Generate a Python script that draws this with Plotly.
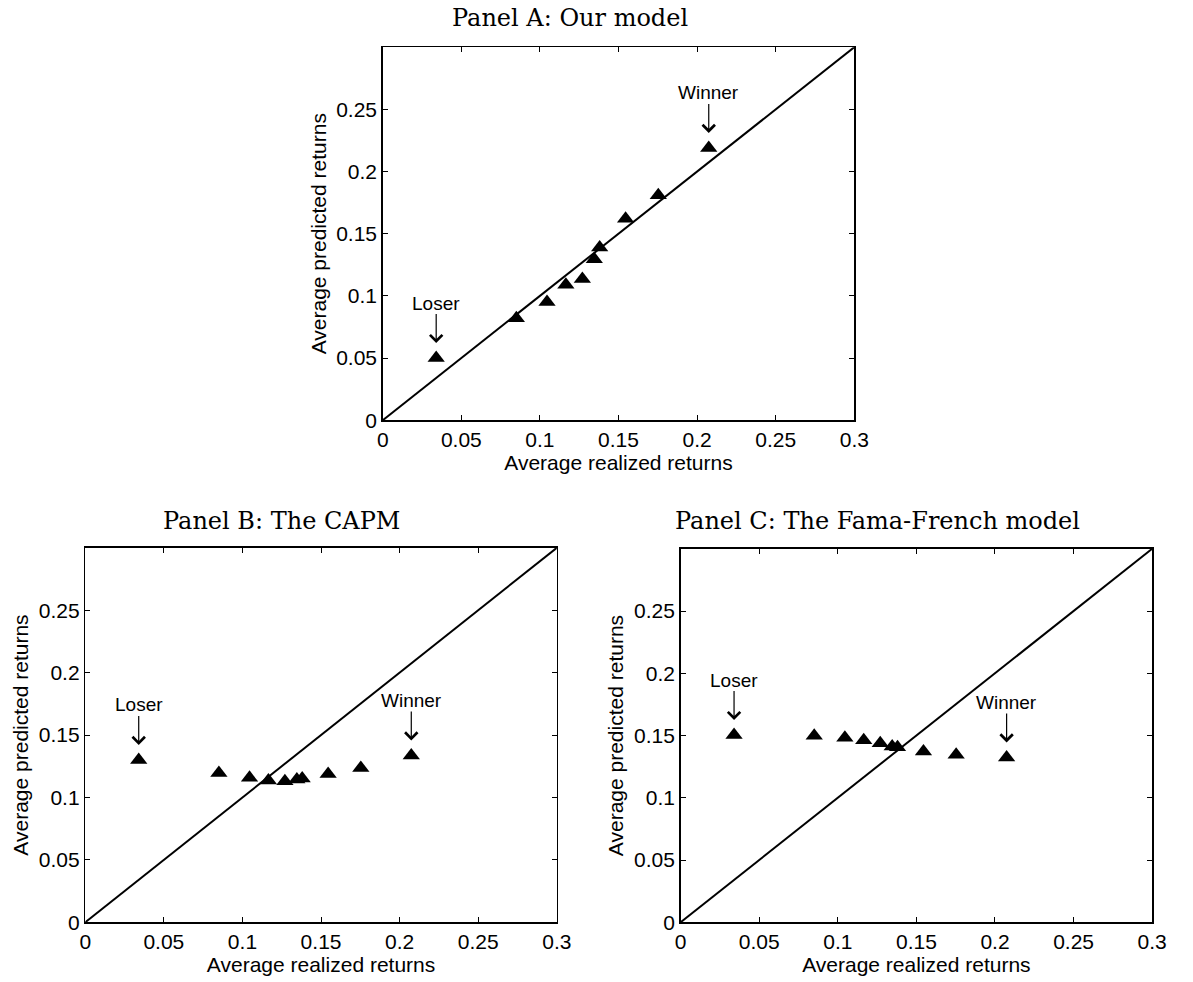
import plotly.graph_objects as go

# ---------------- data ----------------
realized = [0.034, 0.085, 0.1045, 0.1165, 0.127, 0.1346, 0.138, 0.1545, 0.1753, 0.2074]
pred_ours = [0.050, 0.082, 0.095, 0.109, 0.1135, 0.1295, 0.139, 0.162, 0.181, 0.219]
pred_capm = [0.130, 0.1196, 0.1157, 0.1136, 0.113, 0.1144, 0.1152, 0.1188, 0.1236, 0.1336]
pred_ff = [0.1504, 0.1499, 0.1483, 0.1462, 0.1438, 0.1411, 0.1406, 0.1372, 0.1345, 0.1324]
diag = [0, 0.3]
x_tickvals = [0, 0.05, 0.1, 0.15, 0.2, 0.25, 0.3]
x_ticktext = ["0", "0.05", "0.1", "0.15", "0.2", "0.25", "0.3"]
y_tickvals = [0, 0.05, 0.1, 0.15, 0.2, 0.25]
y_ticktext = ["0", "0.05", "0.1", "0.15", "0.2", "0.25"]
titles = ["Panel A: Our model", "Panel B: The CAPM", "Panel C: The Fama-French model"]
x_label = "Average realized returns"
y_label = "Average predicted returns"

# ---------------- layout geometry (screen pixels) ----------------
W, H = 1193, 982
boxes = [  # left, right, top, bottom
    (383.5, 863.5, 47.7, 425.0),
    (80.7, 560.7, 554.0, 932.7),
    (686.7, 1166.7, 555.0, 932.7),
]
title_pos = [(574.5, 18), (280, 527), (887, 527)]

fig = go.Figure()
series = [pred_ours, pred_capm, pred_ff]
axfont = dict(family="Liberation Sans, Arial, sans-serif", size=21, color="black")

for i, (ys, (l, r, t, b)) in enumerate(zip(series, boxes)):
    n = "" if i == 0 else str(i + 1)
    xa, ya = "x" + n, "y" + n
    fig.add_trace(go.Scatter(x=diag, y=diag, mode="lines", xaxis=xa, yaxis=ya,
                             line=dict(color="black", width=2), showlegend=False, hoverinfo="skip"))
    fig.add_trace(go.Scatter(x=realized, y=ys, mode="markers", xaxis=xa, yaxis=ya,
                             marker=dict(symbol="triangle-up", size=15, color="black",
                                         line=dict(width=0)),
                             showlegend=False))
    common = dict(showgrid=False, zeroline=False, showline=True, linecolor="black",
                  linewidth=1.5, mirror="ticks", ticks="inside", ticklen=5, tickwidth=1,
                  tickcolor="black", tickfont=axfont, range=[0, 0.3], fixedrange=True)
    fig.layout["xaxis" + n] = dict(common, domain=[l / W, r / W], anchor=ya,
                                   tickvals=x_tickvals, ticktext=x_ticktext,
                                   title=dict(text=x_label, font=axfont, standoff=0))
    fig.layout["yaxis" + n] = dict(common, domain=[1 - b / H, 1 - t / H], anchor=xa,
                                   tickvals=y_tickvals, ticktext=y_ticktext,
                                   title=dict(text=y_label, font=axfont, standoff=4))
    # Loser / Winner annotations
    for k, lab in ((0, "Loser"), (len(realized) - 1, "Winner")):
        fig.add_annotation(x=realized[k], y=ys[k], xref=xa, yref=ya, text=lab,
                           showarrow=True, ax=0, ay=-55, standoff=15,
                           arrowhead=4, arrowsize=2.0, arrowwidth=1.2, arrowcolor="black",
                           borderpad=0,
                           font=dict(family="Liberation Sans, Arial, sans-serif", size=19,
                                     color="black"))
    tx, ty = title_pos[i]
    fig.add_annotation(x=tx / W, y=1 - ty / H, xref="paper", yref="paper",
                       text=titles[i], showarrow=False, xanchor="center", yanchor="middle",
                       font=dict(family="DejaVu Serif, serif", size=24, color="black"))

fig.update_layout(width=W, height=H, margin=dict(l=0, r=0, t=0, b=0),
                  paper_bgcolor="white", plot_bgcolor="white", hovermode=False)

fig.write_html("out.html", config={"displayModeBar": False, "staticPlot": True},
               post_script="document.body.style.margin='0';document.body.style.overflow='hidden';")
